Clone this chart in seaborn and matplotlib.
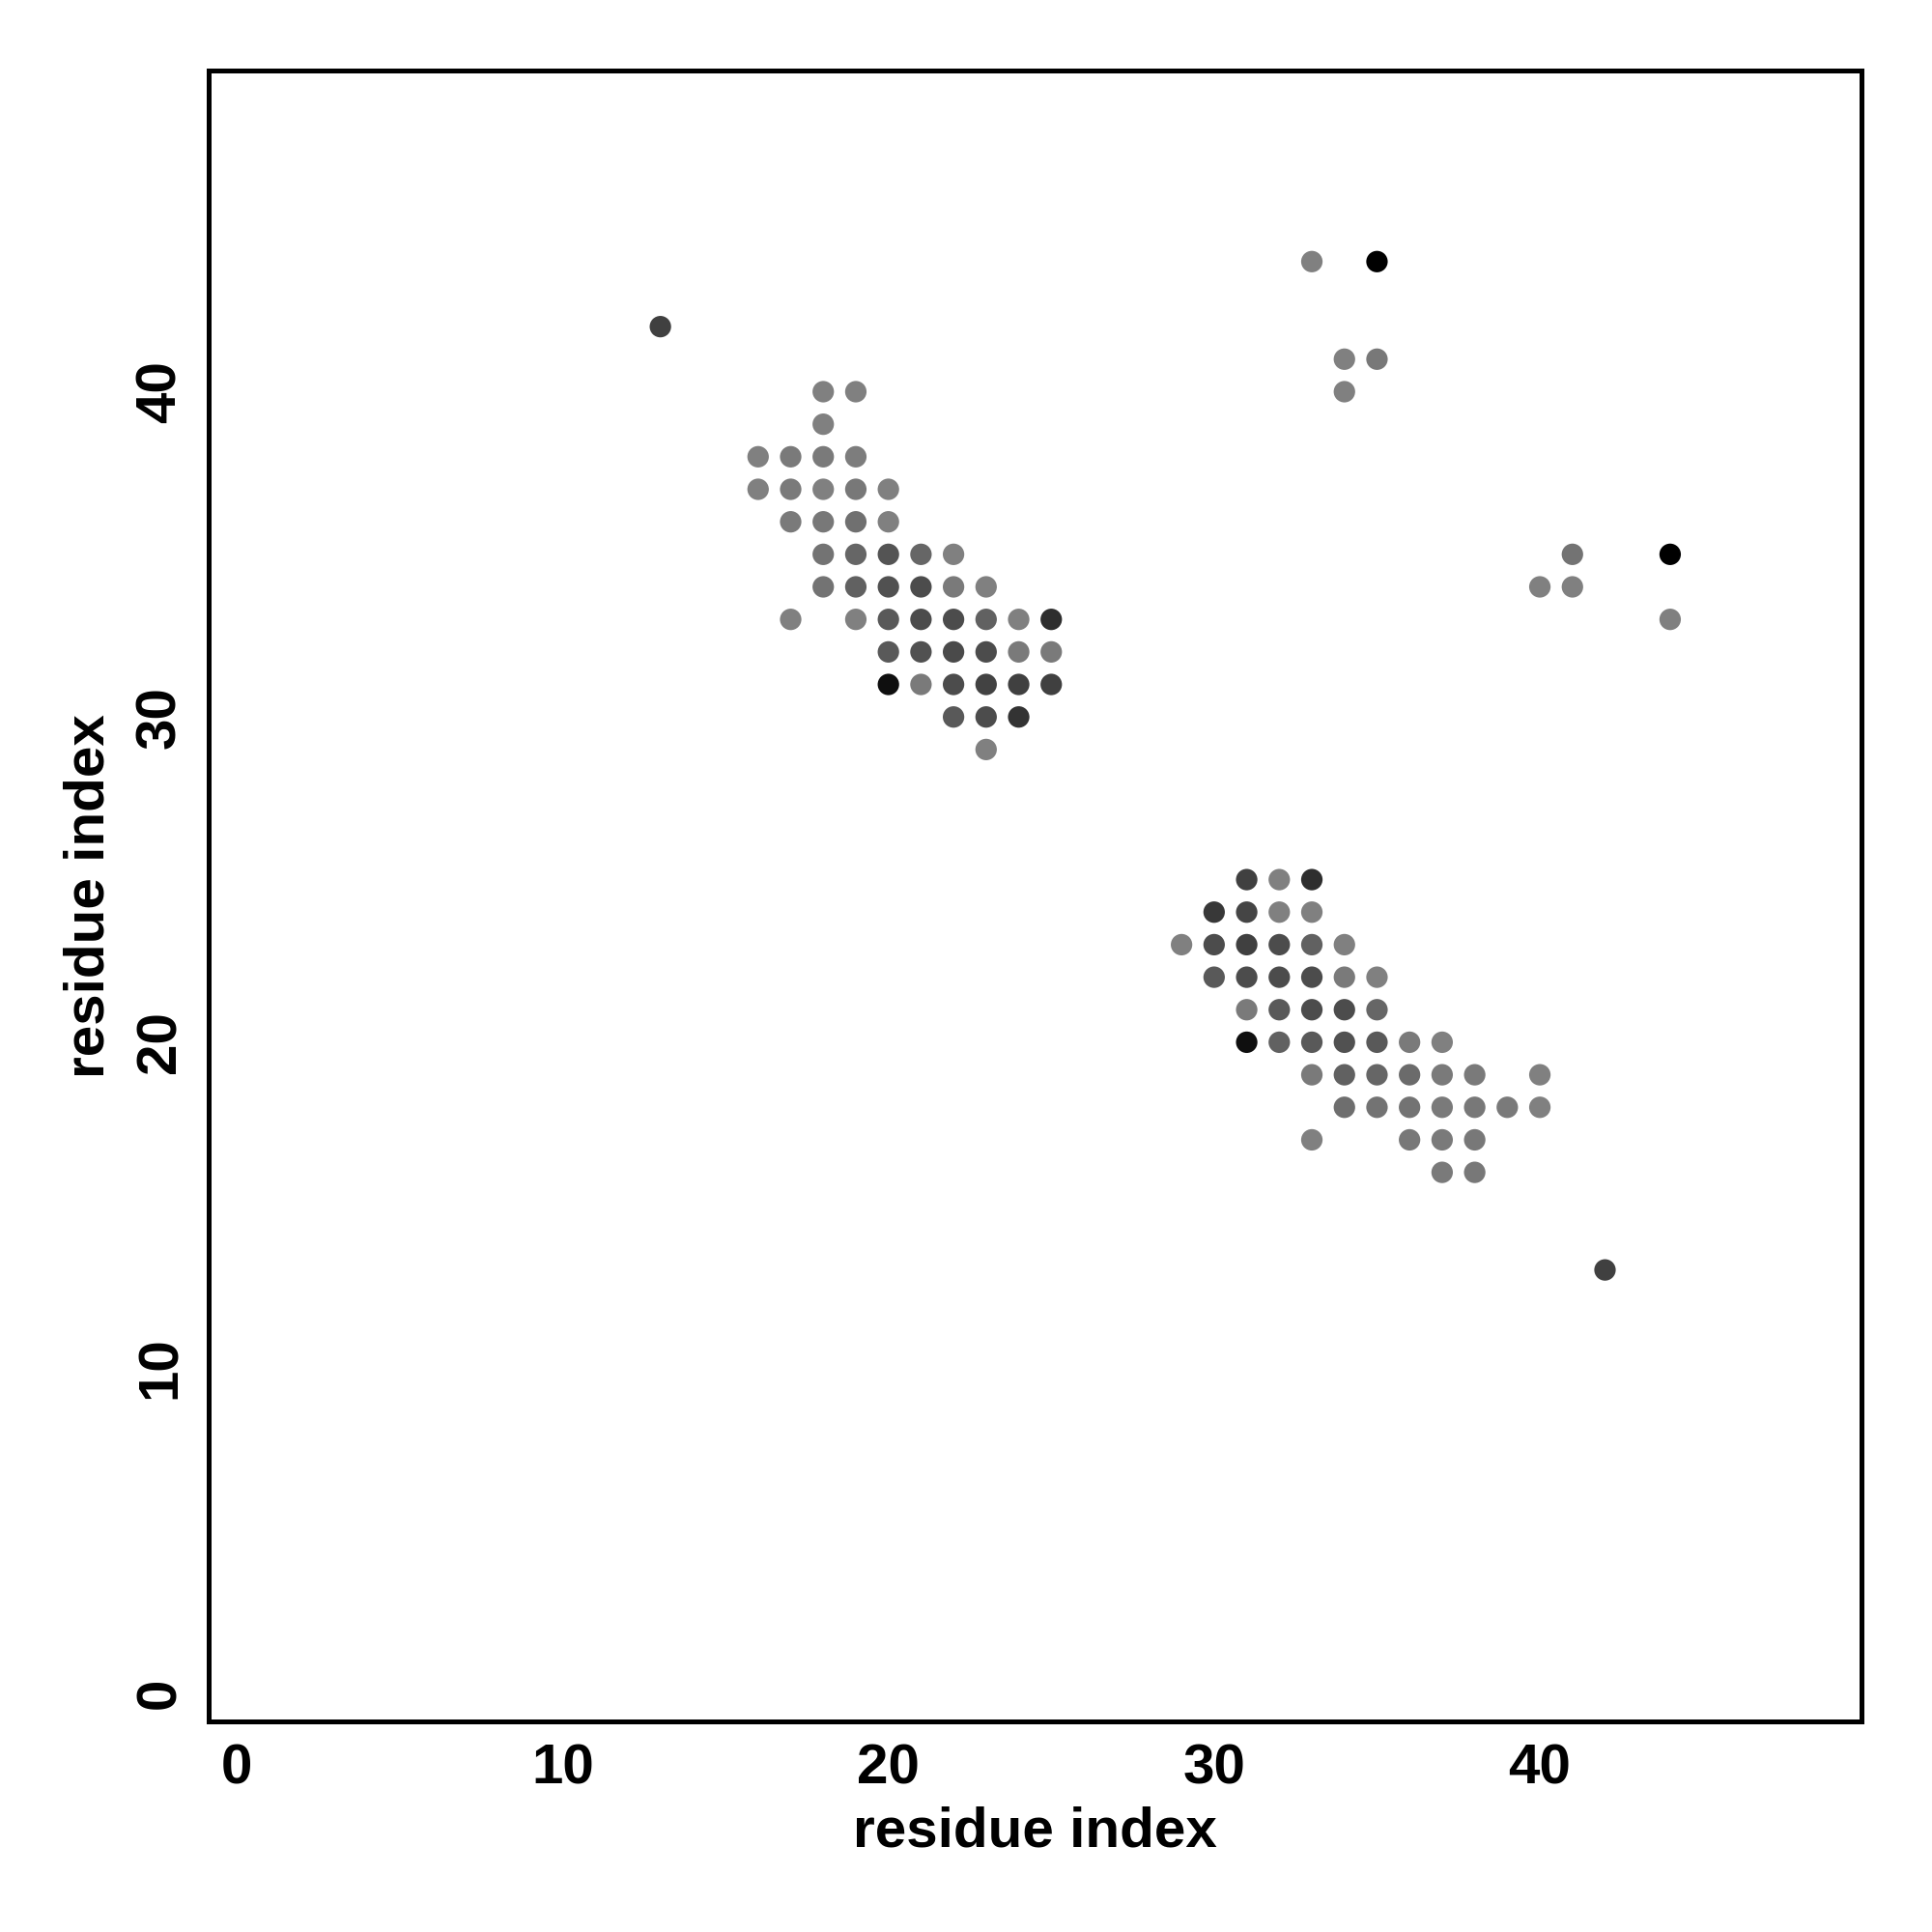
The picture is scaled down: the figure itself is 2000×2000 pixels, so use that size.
import matplotlib
matplotlib.use("Agg")
import matplotlib.pyplot as plt
import seaborn as sns
import pandas as pd

# contact map: residue i, residue j, grey level (0 = black, 1 = white)
res_i = [18, 19,
         18,
         16, 17, 18, 19,
         16, 17, 18, 19, 20,
         17, 18, 19, 20,
         18, 19, 20, 21, 22,
         18, 19, 20, 21, 22, 23,
         17, 19, 20, 21, 22, 23, 24, 25,
         20, 21, 22, 23, 24, 25,
         20, 21, 22, 23, 24, 25,
         22, 23, 24,
         23,
         31, 32, 33,
         30, 31, 32, 33,
         29, 30, 31, 32, 33, 34,
         30, 31, 32, 33, 34, 35,
         31, 32, 33, 34, 35,
         31, 32, 33, 34, 35, 36, 37,
         33, 34, 35, 36, 37, 38, 40,
         34, 35, 36, 37, 38, 39, 40,
         33, 36, 37, 38,
         37, 38,
         33, 35, 34, 35, 34,
         41, 44, 40, 41, 44,
         13, 42]
res_j = [40, 40,
         39,
         38, 38, 38, 38,
         37, 37, 37, 37, 37,
         36, 36, 36, 36,
         35, 35, 35, 35, 35,
         34, 34, 34, 34, 34, 34,
         33, 33, 33, 33, 33, 33, 33, 33,
         32, 32, 32, 32, 32, 32,
         31, 31, 31, 31, 31, 31,
         30, 30, 30,
         29,
         25, 25, 25,
         24, 24, 24, 24,
         23, 23, 23, 23, 23, 23,
         22, 22, 22, 22, 22, 22,
         21, 21, 21, 21, 21,
         20, 20, 20, 20, 20, 20, 20,
         19, 19, 19, 19, 19, 19, 19,
         18, 18, 18, 18, 18, 18, 18,
         17, 17, 17, 17,
         16, 16,
         44, 44, 41, 41, 40,
         35, 35, 34, 34, 33,
         42, 13]
shade = [.50, .50,
         .50,
         .50, .48, .48, .49,
         .50, .48, .50, .47, .50,
         .48, .47, .44, .50,
         .45, .40, .33, .40, .50,
         .45, .38, .32, .30, .48, .50,
         .50, .50, .35, .30, .30, .38, .50, .18,
         .35, .32, .29, .30, .48, .48,
         .06, .48, .30, .26, .25, .25,
         .35, .30, .20,
         .50,
         .25, .50, .18,
         .22, .27, .50, .50,
         .50, .30, .25, .30, .38, .50,
         .35, .30, .30, .30, .48, .50,
         .48, .35, .30, .30, .40,
         .06, .38, .35, .32, .35, .48, .50,
         .48, .38, .40, .42, .48, .48, .50,
         .43, .45, .45, .48, .47, .48, .50,
         .50, .47, .48, .47,
         .48, .47,
         .50, .0, .50, .47, .50,
         .45, .0, .50, .50, .50,
         .25, .25]

df = pd.DataFrame({"i": res_i, "j": res_j, "shade": shade})

sns.set_style("white")
plt.rcParams["font.family"] = ["Liberation Sans", "DejaVu Sans"]
plt.rcParams["font.weight"] = "bold"

fig = plt.figure(figsize=(10, 10), dpi=200)
ax = fig.add_axes([0.1078, 0.109, 0.8558, 0.8546])

sns.scatterplot(data=df, x="i", y="j", hue="shade", palette="gray",
                hue_norm=(0, 1), s=64, linewidth=0, legend=False, ax=ax)

ax.set_xlim(-0.88, 49.88)
ax.set_ylim(-0.88, 49.88)
ax.set_xticks([0, 10, 20, 30, 40])
ax.set_yticks([0, 10, 20, 30, 40])
ax.tick_params(axis="both", direction="out", length=5, width=1.2,
               labelsize=21, pad=3, color="black", labelcolor="black")
for lab in ax.get_yticklabels():
    lab.set_rotation(90)
    lab.set_va("center")
for sp in ax.spines.values():
    sp.set_visible(True)
    sp.set_linewidth(1.8)
    sp.set_color("black")

ax.set_xlabel("residue index", fontsize=21, fontweight="bold", labelpad=4,
              color="black")
ax.set_ylabel("residue index", fontsize=21, fontweight="bold", labelpad=7,
              color="black")

fig.savefig("out.png", dpi=200, facecolor="white")
